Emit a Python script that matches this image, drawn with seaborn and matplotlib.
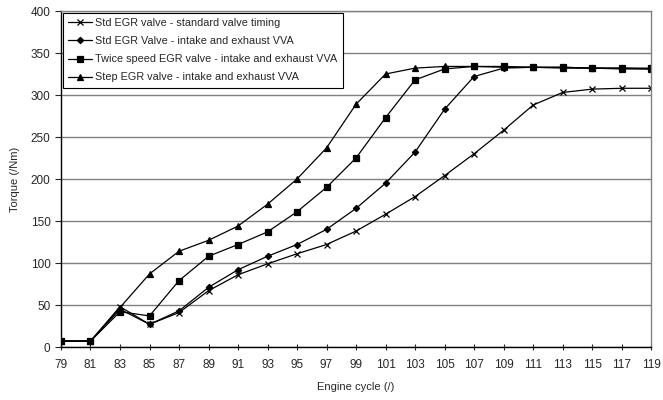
import pandas as pd
import matplotlib.pyplot as plt
import seaborn as sns

cycles = list(range(79, 121, 2))

std_timing = [7, 7, 48, 27, 41, 67, 86, 99, 111, 122, 138, 158, 179, 204, 230, 258, 288, 303, 307, 308, 308]
std_vva = [7, 7, 45, 27, 43, 71, 92, 108, 122, 140, 165, 195, 232, 283, 322, 332, 333, 333, 332, 332, 331]
twice_vva = [7, 7, 42, 37, 79, 108, 122, 137, 161, 190, 225, 273, 318, 331, 334, 334, 333, 333, 332, 332, 332]
step_vva = [7, 7, 47, 87, 114, 127, 144, 170, 200, 237, 289, 325, 332, 334, 334, 333, 333, 332, 332, 331, 331]

labels = ["Std EGR valve - standard valve timing",
          "Std EGR Valve - intake and exhaust VVA",
          "Twice speed EGR valve - intake and exhaust VVA",
          "Step EGR valve - intake and exhaust VVA"]
markers = ["x", "D", "s", "^"]
sizes = [4.5, 3.2, 4.5, 4.5]

df = pd.DataFrame({"cycle": cycles * 4,
                   "torque": std_timing + std_vva + twice_vva + step_vva,
                   "series": [l for l in labels for _ in cycles]})

sns.set_style("white")
plt.rcParams["font.family"] = ["Liberation Sans", "DejaVu Sans"]
plt.rcParams["font.size"] = 8

fig = plt.figure(figsize=(6.63, 4.0), dpi=100)
ax = fig.add_axes([0.092, 0.1325, 0.89, 0.84])

for lab, m, s in zip(labels, markers, sizes):
    sns.lineplot(data=df[df["series"] == lab], x="cycle", y="torque", ax=ax,
                 color="black", lw=0.9, marker=m, markersize=s,
                 markeredgecolor="black", markerfacecolor="black",
                 markeredgewidth=0.9, label=lab)

ax.set_xlim(79, 119)
ax.set_ylim(0, 400)
ax.set_xticks(cycles)
ax.set_yticks(range(0, 401, 50))
ax.yaxis.grid(True, color="#808080", lw=1)
ax.set_axisbelow(True)
ax.set_xlabel("Engine cycle (/)", fontsize=8, labelpad=8)
ax.set_ylabel("Torque (/Nm)", fontsize=8, labelpad=8)
ax.tick_params(axis="x", direction="inout", length=5, width=0.8, labelsize=8.5, pad=6)
ax.tick_params(axis="y", direction="out", length=4, width=0.8, labelsize=8.5)
ax.tick_params(bottom=True, left=True)
for side in ["left", "bottom"]:
    ax.spines[side].set_color("black")
    ax.spines[side].set_linewidth(1)
for side in ["right", "top"]:
    ax.spines[side].set_color("#808080")
    ax.spines[side].set_linewidth(1)

leg = ax.legend(loc="upper left", bbox_to_anchor=(0.0, 1.0), borderaxespad=0.15,
                fontsize=7.8, frameon=True, fancybox=False, framealpha=1,
                edgecolor="black", handlelength=2.2, handletextpad=0.3,
                labelspacing=0.75, borderpad=0.5)
leg.get_frame().set_linewidth(0.8)

plt.savefig("out.png", dpi=100)
